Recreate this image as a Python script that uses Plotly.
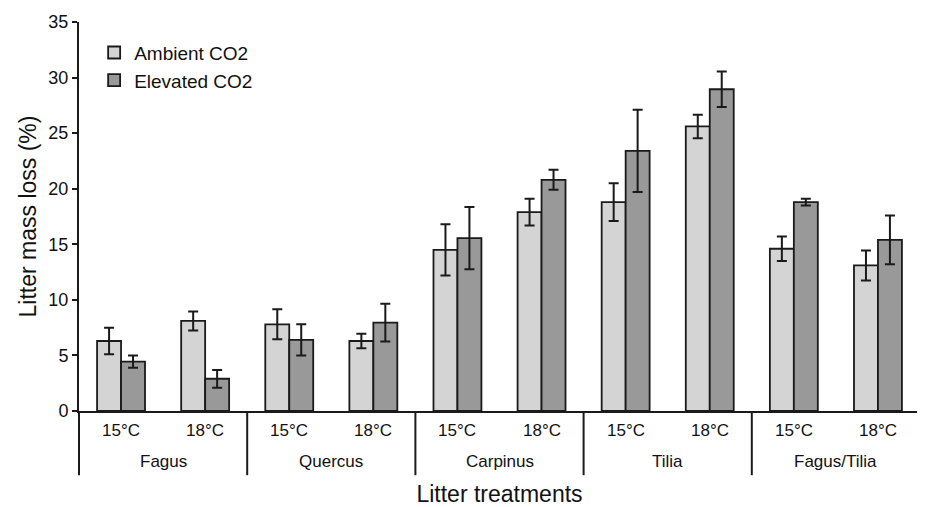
import plotly.graph_objects as go

species = ["Fagus", "Quercus", "Carpinus", "Tilia", "Fagus/Tilia"]
temps = ["15°C", "18°C"]

ambient = [6.3, 8.1, 7.8, 6.3, 14.5, 17.9, 18.8, 25.6, 14.6, 13.1]
ambient_err = [1.2, 0.85, 1.35, 0.65, 2.3, 1.2, 1.7, 1.05, 1.1, 1.35]
elevated = [4.45, 2.9, 6.4, 7.95, 15.55, 20.8, 23.4, 28.95, 18.8, 15.4]
elevated_err = [0.55, 0.8, 1.4, 1.7, 2.8, 0.9, 3.7, 1.6, 0.3, 2.2]

outer = [s for s in species for _ in temps]
inner = [t for _ in species for t in temps]
x = [outer, inner]

font_family = "Liberation Sans, Arial, sans-serif"
ink = "#1a1a1a"
text_col = "#111111"

fig = go.Figure()
fig.add_trace(go.Bar(
    x=x, y=ambient, name="Ambient CO2",
    marker=dict(color="#d4d4d4", line=dict(color=ink, width=1.8)),
    error_y=dict(type="data", array=ambient_err, color=ink, thickness=2, width=5),
))
fig.add_trace(go.Bar(
    x=x, y=elevated, name="Elevated CO2",
    marker=dict(color="#999999", line=dict(color=ink, width=1.8)),
    error_y=dict(type="data", array=elevated_err, color=ink, thickness=2, width=5),
))

n = len(species)
m = len(inner)
# group dividers below the axis (left one continues the y-axis line)
for i in range(n):
    fig.add_shape(type="line", xref="paper", yref="paper",
                  x0=i / n, x1=i / n, y0=0, y1=-0.165,
                  line=dict(color=ink, width=2))

# two-level category labels
for k, t in enumerate(inner):
    fig.add_annotation(text=t, xref="paper", yref="paper", x=(k + 0.5) / m, y=0,
                       yshift=-19, yanchor="middle", xanchor="center", showarrow=False,
                       font=dict(size=17, family=font_family, color=text_col))
for i, s in enumerate(species):
    fig.add_annotation(text=s, xref="paper", yref="paper", x=(i + 0.5) / n, y=0,
                       yshift=-50, yanchor="middle", xanchor="center", showarrow=False,
                       font=dict(size=17, family=font_family, color=text_col))

fig.update_layout(
    width=917, height=499,
    margin=dict(l=71, r=5, t=14, b=96),
    paper_bgcolor="white", plot_bgcolor="white",
    barmode="group", bargap=0.43, bargroupgap=0,
    font=dict(family=font_family, color=text_col, size=17),
    showlegend=True,
    legend=dict(x=0.018, y=0.97, xanchor="left", yanchor="top",
                font=dict(size=19, family=font_family), bgcolor="rgba(0,0,0,0)",
                tracegroupgap=0, itemwidth=30),
    xaxis=dict(
        type="multicategory", automargin=False,
        showline=True, linecolor=ink, linewidth=2,
        ticks="", showgrid=False, showdividers=False, showticklabels=False,
        title=dict(text="Litter treatments", font=dict(size=23, family=font_family), standoff=74),
    ),
    yaxis=dict(
        range=[0, 35], dtick=5, tick0=0, automargin=False,
        showline=True, linecolor=ink, linewidth=2,
        ticks="outside", ticklen=5, tickwidth=2, tickcolor=ink,
        showgrid=False, zeroline=False,
        tickfont=dict(size=18, family=font_family),
        title=dict(text="Litter mass loss (%)", font=dict(size=23, family=font_family), standoff=5),
    ),
)

fig.write_html("out.html")
